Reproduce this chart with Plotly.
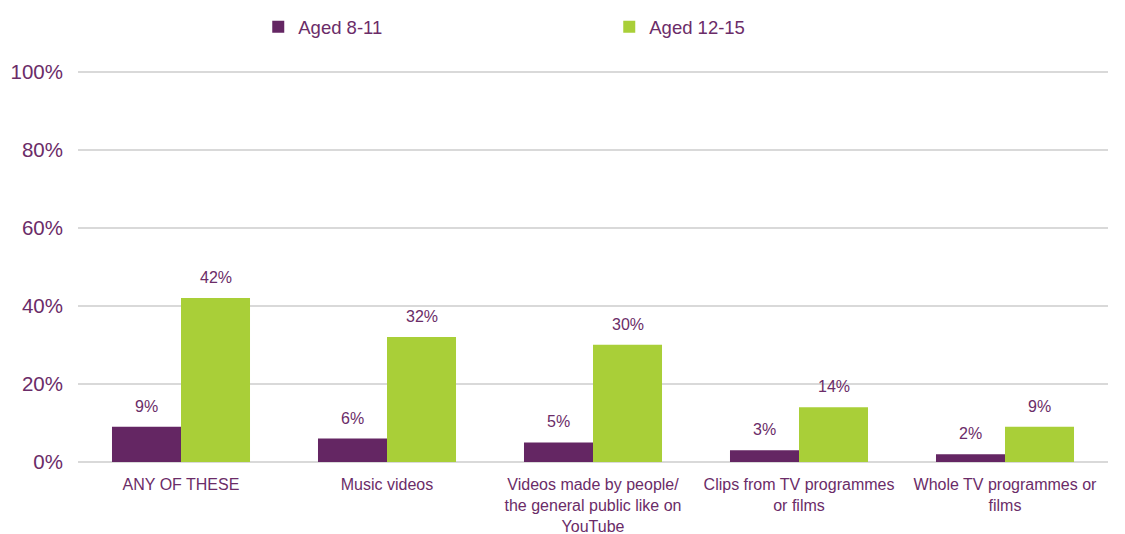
import plotly.graph_objects as go

categories = [
    "ANY OF THESE",
    "Music videos",
    "Videos made by people/<br>the general public like on<br>YouTube",
    "Clips from TV programmes<br>or films",
    "Whole TV programmes or<br>films",
]
aged_8_11 = [9, 6, 5, 3, 2]
aged_12_15 = [42, 32, 30, 14, 9]
series_names = ["Aged 8-11", "Aged 12-15"]
y_ticks = [0, 20, 40, 60, 80, 100]

PURPLE = "#642663"
GREEN = "#A9CF38"
TEXT = "#6B2C68"
FONT = "Liberation Sans, Arial, sans-serif"

BARGAP = 0.33
PLOT_W = 1125 - 78 - 17
bar_px = PLOT_W / len(categories) * (1 - BARGAP) / 2

fig = go.Figure()
for i, (name, vals, col) in enumerate([(series_names[0], aged_8_11, PURPLE),
                                       (series_names[1], aged_12_15, GREEN)]):
    fig.add_trace(go.Bar(
        name=name, x=categories, y=vals, marker=dict(color=col, line=dict(width=0)),
    ))
    shift = (-0.5 if i == 0 else 0.5) * bar_px
    for c, v in zip(categories, vals):
        fig.add_annotation(
            x=c, y=v, xref="x", yref="y", text=f"{v}%", showarrow=False,
            xshift=shift, yshift=10, yanchor="bottom",
            font=dict(family=FONT, size=16, color=TEXT),
        )

fig.update_layout(
    width=1125, height=534,
    margin=dict(l=78, r=17, t=70, b=72, autoexpand=False),
    plot_bgcolor="white", paper_bgcolor="white",
    barmode="group", bargap=BARGAP, bargroupgap=0,
    font=dict(family=FONT, color=TEXT),
    showlegend=True,
    legend=dict(
        orientation="h", x=0.175, xanchor="left",
        yref="container", y=0.949, yanchor="middle",
        font=dict(family=FONT, size=18.5, color=TEXT),
        entrywidth=306, entrywidthmode="pixels",
        bgcolor="rgba(0,0,0,0)",
    ),
)
fig.update_xaxes(
    tickfont=dict(family=FONT, size=16, color=TEXT),
    showgrid=False, showline=False, ticks="", ticklabelstandoff=11,
)
fig.update_yaxes(
    range=[0, 100.4], tickvals=y_ticks, ticktext=[f"{t}%" for t in y_ticks],
    tickfont=dict(family=FONT, size=20.5, color=TEXT),
    showgrid=True, gridcolor="#D9D9D9", gridwidth=2,
    zeroline=True, zerolinecolor="#D9D9D9", zerolinewidth=2,
    showline=False, ticks="", ticklabelstandoff=14,
)

fig.write_html("out.html")
